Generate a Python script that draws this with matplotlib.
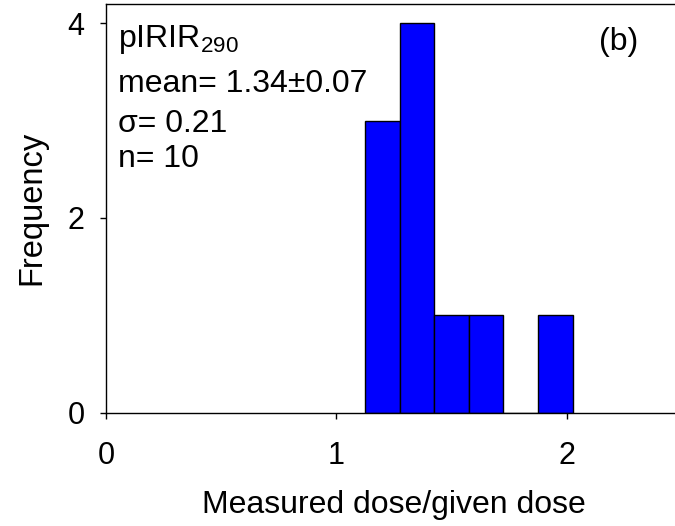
import matplotlib
matplotlib.use("Agg")
import matplotlib.pyplot as plt

# Data
bin_edges = [1.125, 1.275, 1.425, 1.575, 1.725, 1.875, 2.025]
counts = [3, 4, 1, 1, 0, 1]
x_ticks = [0, 1, 2]
y_ticks = [0, 2, 4]
label_lines = ["pIRIR$_\\mathregular{290}$", "mean= 1.34\u00b10.07", "\u03c3= 0.21", "n= 10"]
panel_label = "(b)"

plt.rcParams['font.family'] = ['Liberation Sans', 'DejaVu Sans']
plt.rcParams['mathtext.fontset'] = 'custom'
plt.rcParams['mathtext.rm'] = 'Liberation Sans'

fig = plt.figure(figsize=(6.75, 5.26), dpi=100)
ax = fig.add_axes([106/675, (526-412.5)/526, 576/675, 408.5/526])

lefts = bin_edges[:-1]
widths = [b - a for a, b in zip(bin_edges[:-1], bin_edges[1:])]
ax.bar(lefts, counts, width=widths, align='edge', color='#0000FF',
       edgecolor='black', linewidth=1.0)

ax.set_xlim(0, 2.5)
ax.set_ylim(0, 4.2)
ax.set_xticks(x_ticks)
ax.set_yticks(y_ticks)
ax.tick_params(axis='both', direction='out', length=4.5, width=1.0, labelsize=22)
ax.tick_params(axis='x', pad=16)
ax.tick_params(axis='y', pad=11)
for s in ax.spines.values():
    s.set_linewidth(1.0)

ax.set_xlabel("Measured dose/given dose", fontsize=23)
ax.set_ylabel("Frequency", fontsize=23.5)
ax.xaxis.set_label_coords(0.5, -0.19)
ax.yaxis.set_label_coords(-0.1024, 0.5)

ys = [3.758, 3.296, 2.884, 2.524]
for txt, y in zip(label_lines, ys):
    ax.text(0.052, y, txt, fontsize=23, ha='left', va='baseline')
ax.text(2.139, 3.727, panel_label, fontsize=23, ha='left', va='baseline')

fig.savefig("out.png", dpi=100)
